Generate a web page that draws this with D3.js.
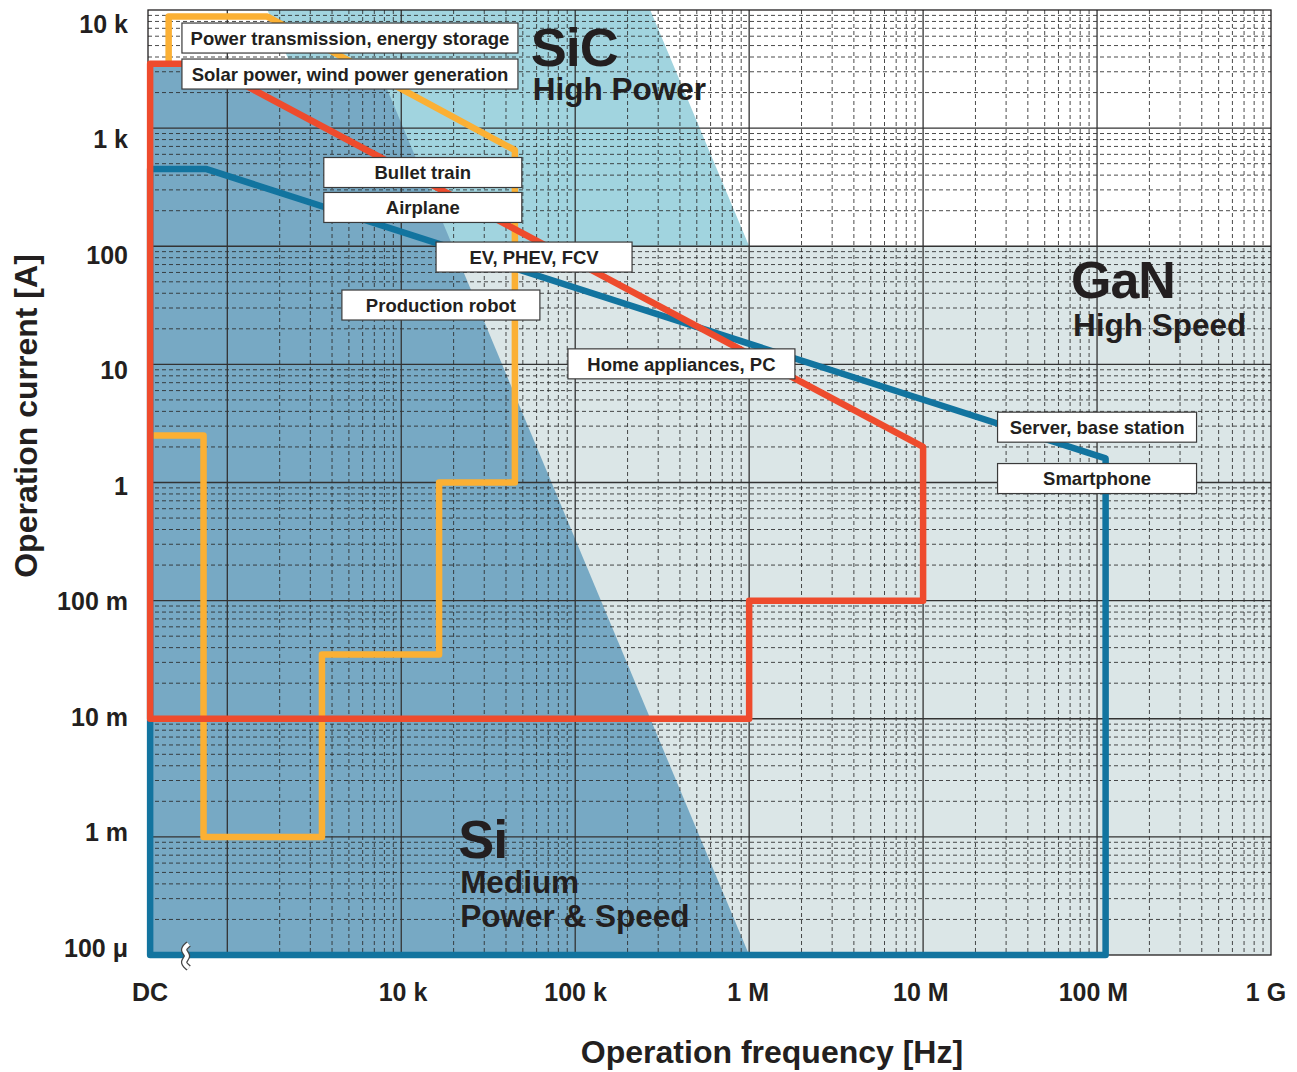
<!DOCTYPE html>
<html><head><meta charset="utf-8">
<script src="https://cdn.jsdelivr.net/npm/d3@7"></script>
<style>
body{margin:0;background:#fff}
text{font-family:"Liberation Sans",Arial,Helvetica,sans-serif;font-weight:bold;fill:#231f20}
</style>
</head><body>
<svg id="chart" width="1297" height="1072"></svg>
<script>
// ---------------- DATA ----------------
const DC = 360; // frequency used to stand for "DC" on the broken axis
const xTickValues = [DC, 1e4, 1e5, 1e6, 1e7, 1e8, 1e9];
const xTickLabels = ["DC", "10 k", "100 k", "1 M", "10 M", "100 M", "1 G"];
const yTickValues = [1e4, 1e3, 1e2, 1e1, 1, 1e-1, 1e-2, 1e-3, 1e-4];
const yTickLabels = ["10 k", "1 k", "100", "10", "1", "100 m", "10 m", "1 m", "100 μ"];

// device regions [frequency Hz, current A]
const regionGaN = [[350, 100], [1e9, 100], [1e9, 1e-4], [350, 1e-4]];
const regionSiC = [[1700, 1e4], [2.7e5, 1e4], [1e6, 100], [350, 100], [350, 3500], [2300, 3500]];
const regionSi  = [[350, 3500], [7200, 3500], [1e6, 1e-4], [350, 1e-4]];

// application envelopes [frequency Hz, current A]
const lineYellow = [[460, 3500], [460, 8800], [1700, 8800], [45000, 650], [45000, 1], [16500, 1],
                    [16500, 0.035], [3500, 0.035], [3500, 1e-3], [730, 1e-3], [730, 2.5], [DC, 2.5]];
const lineBlue   = [[DC, 1e-4], [DC, 450], [760, 450], [1.12e8, 1.6], [1.12e8, 1e-4], [DC, 1e-4]];
const lineRed    = [[DC, 0.01], [DC, 3500], [745, 3500], [1e7, 2], [1e7, 0.1], [1e6, 0.1], [1e6, 0.01], [DC, 0.01]];

// application labels, anchored at box centre [frequency Hz, current A]
const appLabels  = ["Power transmission, energy storage", "Solar power, wind power generation",
                    "Bullet train", "Airplane", "EV, PHEV, FCV", "Production robot",
                    "Home appliances, PC", "Server, base station", "Smartphone"];
const appFreq    = [5.07e3, 5.07e3, 1.33e4, 1.33e4, 5.8e4, 1.69e4, 4.08e5, 1.0e8, 1.0e8];
const appCurrent = [5.79e3, 2.87e3, 421, 213, 81, 31.8, 10.1, 2.94, 1.08];

// device labels, anchored at left/baseline of title [frequency Hz, current A]
const devNames   = ["SiC", "GaN", "Si"];
const devSubs    = [["High Power"], ["High Speed"], ["Medium", "Power & Speed"]];
const devFreq    = [5.7e4, 7.27e7, 2.18e4];
const devCurrent = [3.36e3, 36.5, 6.6e-4];

// ---------------- LAYOUT / STYLE ----------------
const plot = {left: 148, right: 1271, top: 10, bottom: 955};
const boxWidths = [336, 336, 198, 198, 196, 198, 227, 199, 199];
const boxH = 30;
const subOffset = [34, 38, 35];
const subGap = 34;
const colors = {GaN: "#dbe6e7", SiC: "#a1d4df", Si: "#77a9c4",
                yellow: "#fbb034", blue: "#12749f", red: "#ee4b2d", text: "#231f20"};

const svg = d3.select("#chart");
const x = d3.scaleLog().domain([350, 1e9]).range([plot.left, plot.right]);
const y = d3.scaleLog().domain([1e-4, 1e4]).range([plot.bottom, plot.top]);
// tick label placement scales
const xLab = d3.scaleLog().domain([1e4, 1e9]).range([403, 1266]);
const yLab = d3.scaleLog().domain([1e-4, 1e4]).range([948, 23.5]);

const line = d3.line().x(d => x(d[0])).y(d => y(d[1]));

// regions
[[regionGaN, colors.GaN], [regionSiC, colors.SiC], [regionSi, colors.Si]].forEach(([r, c]) => {
  svg.append("path").attr("d", line(r) + "Z").attr("fill", c);
});

// grid
const g = svg.append("g");
const yMinor = [], yMajor = [];
for (let e = -4; e < 4; e++) {
  for (let k = 2; k <= 9; k++) yMinor.push(k * Math.pow(10, e));
  if (e > -4) yMajor.push(Math.pow(10, e));
}
const xMinor = [], xMajor = [];
for (let e = 3; e < 9; e++) {
  for (let k = 2; k <= 9; k++) xMinor.push(k * Math.pow(10, e));
  xMajor.push(Math.pow(10, e));
}
g.selectAll(".hmin").data(yMinor).enter().append("line")
  .attr("x1", plot.left).attr("x2", plot.right)
  .attr("y1", d => y(d)).attr("y2", d => y(d))
  .attr("stroke", "#2a2a2a").attr("stroke-width", 0.85).attr("stroke-dasharray", "4 3");
g.selectAll(".vmin").data(xMinor).enter().append("line")
  .attr("y1", plot.top).attr("y2", plot.bottom)
  .attr("x1", d => x(d)).attr("x2", d => x(d))
  .attr("stroke", "#2a2a2a").attr("stroke-width", 0.85).attr("stroke-dasharray", "4 3");
g.selectAll(".hmaj").data(yMajor).enter().append("line")
  .attr("x1", plot.left).attr("x2", plot.right)
  .attr("y1", d => y(d)).attr("y2", d => y(d))
  .attr("stroke", "#333").attr("stroke-width", 1.3);
g.selectAll(".vmaj").data(xMajor).enter().append("line")
  .attr("y1", plot.top).attr("y2", plot.bottom)
  .attr("x1", d => x(d)).attr("x2", d => x(d))
  .attr("stroke", "#333").attr("stroke-width", 1.3);
// frame
svg.append("rect").attr("x", plot.left).attr("y", plot.top)
  .attr("width", plot.right - plot.left).attr("height", plot.bottom - plot.top)
  .attr("fill", "none").attr("stroke", "#231f20").attr("stroke-width", 1.3);

// application envelopes
const lw = 6.5;
svg.append("path").attr("d", line(lineYellow)).attr("fill", "none")
  .attr("stroke", colors.yellow).attr("stroke-width", lw).attr("stroke-linejoin", "round").attr("stroke-linecap", "butt");
svg.append("path").attr("d", line(lineBlue) + "Z").attr("fill", "none")
  .attr("stroke", colors.blue).attr("stroke-width", lw).attr("stroke-linejoin", "round");
svg.append("path").attr("d", line(lineRed) + "Z").attr("fill", "none")
  .attr("stroke", colors.red).attr("stroke-width", lw).attr("stroke-linejoin", "round");

// axis break symbol on the bottom line
const bx = (x(350) + x(1e3)) / 2 - 2, by = plot.bottom;
const wave = d3.line().curve(d3.curveBasis);
const wavePts = [[bx + 3, by - 11], [bx - 4, by - 5], [bx + 4, by + 1], [bx - 4, by + 7], [bx + 3, by + 13]];
svg.append("path").attr("d", wave(wavePts)).attr("fill", "none").attr("stroke", "#444").attr("stroke-width", 6.5);
svg.append("path").attr("d", wave(wavePts)).attr("fill", "none").attr("stroke", "#fff").attr("stroke-width", 4);

// application label boxes
appLabels.forEach((t, i) => {
  const cx = x(appFreq[i]), cy = y(appCurrent[i]), w = boxWidths[i];
  svg.append("rect").attr("x", cx - w / 2).attr("y", cy - boxH / 2).attr("width", w).attr("height", boxH)
    .attr("fill", "#fff").attr("stroke", "#3a3a3a").attr("stroke-width", 1.2);
  svg.append("text").attr("x", cx).attr("y", cy).attr("dy", "0.36em")
    .attr("text-anchor", "middle").attr("font-size", 18.5).text(t);
});

// device labels
devNames.forEach((n, i) => {
  const lx = x(devFreq[i]), ly = y(devCurrent[i]);
  svg.append("text").attr("x", lx - 2).attr("y", ly).attr("font-size", i === 1 ? 52 : 54)
    .attr("letter-spacing", -1).text(n);
  devSubs[i].forEach((s, j) => {
    svg.append("text").attr("x", lx).attr("y", ly + subOffset[i] + j * subGap).attr("font-size", 31.5).text(s);
  });
});

// tick labels
xTickValues.forEach((v, i) => {
  const px = v === DC ? x(DC) : xLab(v);
  svg.append("text").attr("x", px).attr("y", 1001).attr("text-anchor", "middle")
    .attr("font-size", 25).text(xTickLabels[i]);
});
yTickValues.forEach((v, i) => {
  svg.append("text").attr("x", 128).attr("y", yLab(v)).attr("dy", "0.36em").attr("text-anchor", "end")
    .attr("font-size", 25).text(yTickLabels[i]);
});

// axis titles
svg.append("text").attr("x", 772).attr("y", 1063).attr("text-anchor", "middle")
  .attr("font-size", 32).text("Operation frequency [Hz]");
svg.append("text").attr("transform", "translate(37,416) rotate(-90)").attr("text-anchor", "middle")
  .attr("font-size", 32).text("Operation current [A]");
</script>
</body></html>
